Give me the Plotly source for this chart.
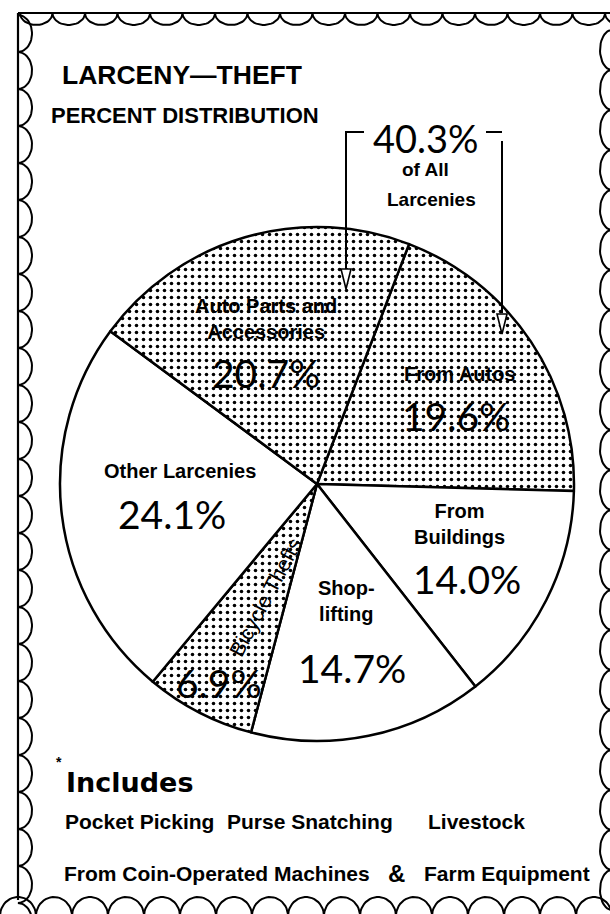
import numpy as np
import plotly.graph_objects as go

W, H = 610, 914

# ---- data -------------------------------------------------------------
categories = ["From Autos", "From Buildings", "Shoplifting", "Bicycle Thefts",
              "Other Larcenies", "Auto Parts and Accessories"]
shares = [19.6, 14.0, 14.7, 6.9, 24.1, 20.7]
stippled = [True, False, False, True, False, True]
display_names = ["From Autos", "From<br>Buildings", "Shop-<br>lifting", "Bicycle Thefts",
                 "Other Larcenies", "Auto Parts and<br>Accessories"]
auto_group = ["From Autos", "Auto Parts and Accessories"]
includes_row1 = ["Pocket Picking", "Purse Snatching", "Livestock"]
includes_row2 = ["From Coin-Operated Machines", "&", "Farm Equipment"]

# ---- layout helpers (pixel positions on the page) -------------------------
PIE_CX, PIE_CY, PIE_R = 317, 484, 257
name_pos = {  # x, y, angle
    "From Autos": (459, 374, 0),
    "From Buildings": (459, 524, 0),
    "Shoplifting": (346, 601, 0),
    "Bicycle Thefts": (265, 597, -62),
    "Other Larcenies": (180, 471, 0),
    "Auto Parts and Accessories": (266, 319, 0),
}
value_pos = {
    "From Autos": (456, 416),
    "From Buildings": (467, 579),
    "Shoplifting": (352, 668),
    "Bicycle Thefts": (219, 683),
    "Other Larcenies": (172, 514),
    "Auto Parts and Accessories": (266, 373),
}

SANS = "Liberation Sans, Arial, sans-serif"
LIGHT = "Lato, Open Sans, sans-serif"

fig = go.Figure()

# pie itself
fig.add_trace(go.Pie(
    values=shares, labels=categories, sort=False, direction="clockwise", rotation=21,
    textinfo="none", hoverinfo="label+value", showlegend=False,
    domain=dict(x=[(PIE_CX - PIE_R) / W, (PIE_CX + PIE_R) / W],
                y=[1 - (PIE_CY + PIE_R) / H, 1 - (PIE_CY - PIE_R) / H]),
    marker=dict(colors=["white"] * len(shares),
                line=dict(color="black", width=2.5),
                pattern=dict(shape=["." if s else "" for s in stippled],
                             fgcolor="black", bgcolor="white",
                             size=7, solidity=0.2)),
))

# scalloped frame drawn on a hidden pixel-space axis
def scallops(start, stop, step, base, depth, horizontal, n=24):
    xs, ys = [], []
    pos = start
    while pos < stop:
        t = np.linspace(0, np.pi, n)
        along = pos + step * (1 - np.cos(t)) / 2
        across = base + depth * np.sin(t)
        if horizontal:
            xs += list(along); ys += list(across)
        else:
            xs += list(across); ys += list(along)
        pos += step
    return xs, ys

frame = [
    scallops(20, W + 10, 32.5, 13, 12, True),        # top, hanging down
    scallops(15, H - 10, 37, 18, 14, False),         # left, bulging right
    scallops(30, H - 20, 40, W + 2, -12, False),     # right, bulging left
    scallops(0, W + 10, 36, H + 2, -19, True),       # bottom, humps
]
for xs, ys in frame:
    fig.add_trace(go.Scatter(x=xs, y=ys, mode="lines", hoverinfo="skip",
                             line=dict(color="black", width=2), showlegend=False))
for xs, ys in [([18, W], [13, 13]), ([18, 18], [13, H - 14])]:
    fig.add_trace(go.Scatter(x=xs, y=ys, mode="lines", hoverinfo="skip",
                             line=dict(color="black", width=2.2), showlegend=False))

annotations = []

def note(x, y, text, size, family=SANS, weight=700, anchor="center", angle=0):
    annotations.append(dict(x=x, y=y, xref="x", yref="y", text=text, showarrow=False,
                            xanchor=anchor, yanchor="middle", textangle=angle,
                            font=dict(family=family, size=size, color="black", weight=weight)))

# titles
note(60, 75, "LARCENY—THEFT", 26.5, anchor="left")
note(49, 115, "PERCENT DISTRIBUTION", 22, anchor="left")

# slice names and percentages
for name, disp, val in zip(categories, display_names, shares):
    nx, ny, ang = name_pos[name]
    if ang:
        note(nx, ny, disp, 21, weight=400, angle=ang)
    else:
        note(nx, ny, disp, 20)
    vx, vy = value_pos[name]
    note(vx, vy, f"{val:.1f}%", 39, family=LIGHT, weight=400)

# combined auto share
auto_total = sum(v for c, v in zip(categories, shares) if c in auto_group)
note(426, 138, f"{auto_total:.1f}%", 38, family=LIGHT, weight=400)
note(425, 169, "of All", 19)
note(431, 199, "Larcenies", 19)

# footnote
note(54, 762, "*", 14, weight=700, anchor="left")
note(64, 782, "Includes", 27, family="DejaVu Sans, sans-serif", weight=700, anchor="left")
row1_x = [63, 225, 426]
for x, txt in zip(row1_x, includes_row1):
    note(x, 821, txt, 21, anchor="left")
row2_x = [62, 386, 422]
row2_size = [21, 24, 21]
for x, txt, s in zip(row2_x, includes_row2, row2_size):
    note(x, 873, txt, s, anchor="left")

# bracket with open arrowheads pointing into the two auto slices
shapes = []
def seg(path, fill=None, width=2):
    shapes.append(dict(type="path", xref="x", yref="y", path=path,
                       line=dict(color="black", width=width),
                       fillcolor=fill if fill else "rgba(0,0,0,0)", layer="above"))

seg("M 364,132 L 346,132 L 346,270")
seg("M 486,132 L 502,132 M 502,141 L 502,313")
for tx, ty in [(346, 289), (502, 334)]:
    seg(f"M {tx-5},{ty-20} L {tx+5},{ty-20} L {tx},{ty} Z", fill="white", width=1.6)

fig.update_layout(
    width=W, height=H, margin=dict(l=0, r=0, t=0, b=0),
    paper_bgcolor="white", plot_bgcolor="rgba(0,0,0,0)",
    xaxis=dict(range=[0, W], visible=False, fixedrange=True),
    yaxis=dict(range=[H, 0], visible=False, fixedrange=True),
    annotations=annotations, shapes=shapes,
)

fig.write_html("out.html")
